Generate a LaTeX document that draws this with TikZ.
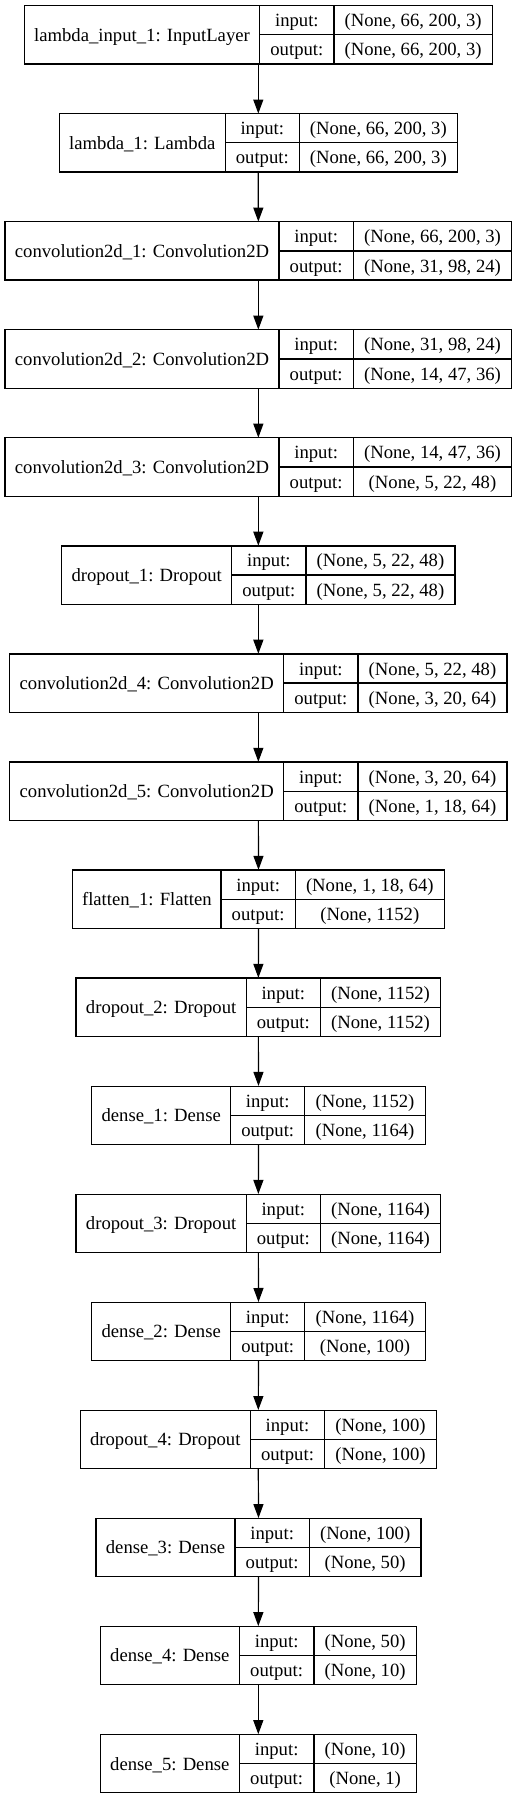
\documentclass[tikz,border=0pt]{standalone}
\usepackage{fontspec}
\setmainfont{Liberation Serif}
\usetikzlibrary{arrows.meta}
\tikzset{
  cell/.style={draw=black, line width=1.2pt, inner sep=0pt, anchor=center,
    text height=13pt, text depth=0pt,
    font=\fontsize{18.67}{22}\selectfont},
  rec/.style={inner sep=0pt, draw=none, minimum height=58.3pt},
  arr/.style={line width=1.2pt, -{Triangle[length=14pt,width=10pt]}}
}
\newcommand{\layerbox}[8]{%
  \pgfmathsetmacro{\tT}{5.7+108.04*#1}%
  \pgfmathsetmacro{\tM}{\tT+29.15}%
  \pgfmathsetmacro{\tA}{\tT+14.575}%
  \pgfmathsetmacro{\tB}{\tT+43.725}%
  \pgfmathsetmacro{\wL}{#3-#2}%
  \pgfmathsetmacro{\wK}{#4-#3}%
  \pgfmathsetmacro{\wV}{#5-#4}%
  \pgfmathsetmacro{\wR}{#5-#2}%
  \pgfmathsetmacro{\cL}{(#2+#3)/2}%
  \pgfmathsetmacro{\cK}{(#3+#4)/2}%
  \pgfmathsetmacro{\cV}{(#4+#5)/2}%
  \pgfmathsetmacro{\cR}{(#2+#5)/2}%
  \node[rec, minimum width=\wR pt] (b#1) at (\cR,\tM) {};
  \node[cell, minimum width=\wL pt, minimum height=58.3pt] (b#1l) at (\cL,\tM) {#6};
  \node[cell, minimum width=\wK pt, minimum height=29.15pt] (b#1ik) at (\cK,\tA) {input:};
  \node[cell, minimum width=\wV pt, minimum height=29.15pt] (b#1iv) at (\cV,\tA) {#7};
  \node[cell, minimum width=\wK pt, minimum height=29.15pt] (b#1ok) at (\cK,\tB) {output:};
  \node[cell, minimum width=\wV pt, minimum height=29.15pt] (b#1ov) at (\cV,\tB) {#8};
}
\begin{document}
\begin{tikzpicture}[x=1pt, y=-1pt]
\fill[white] (0,0) rectangle (517,1799);
\useasboundingbox (0,0) rectangle (517,1799);
\layerbox{0}{24.3}{259.7}{334}{492.3}{lambda\_input\_1: InputLayer}{(None, 66, 200, 3)}{(None, 66, 200, 3)}
\layerbox{1}{59.3}{225.3}{299.3}{457.3}{lambda\_1: Lambda}{(None, 66, 200, 3)}{(None, 66, 200, 3)}
\layerbox{2}{5}{279}{353.3}{511.7}{convolution2d\_1: Convolution2D}{(None, 66, 200, 3)}{(None, 31, 98, 24)}
\layerbox{3}{5}{279}{353.3}{511.7}{convolution2d\_2: Convolution2D}{(None, 31, 98, 24)}{(None, 14, 47, 36)}
\layerbox{4}{5}{279}{353.3}{511.7}{convolution2d\_3: Convolution2D}{(None, 14, 47, 36)}{(None, 5, 22, 48)}
\layerbox{5}{61.7}{231.7}{306}{455}{dropout\_1: Dropout}{(None, 5, 22, 48)}{(None, 5, 22, 48)}
\layerbox{6}{9.7}{283.7}{358}{507}{convolution2d\_4: Convolution2D}{(None, 5, 22, 48)}{(None, 3, 20, 64)}
\layerbox{7}{9.7}{283.7}{358}{507}{convolution2d\_5: Convolution2D}{(None, 3, 20, 64)}{(None, 1, 18, 64)}
\layerbox{8}{72.7}{221}{295.3}{444.3}{flatten\_1: Flatten}{(None, 1, 18, 64)}{(None, 1152)}
\layerbox{9}{76}{246.3}{320.3}{440.7}{dropout\_2: Dropout}{(None, 1152)}{(None, 1152)}
\layerbox{10}{91.7}{230.7}{304.7}{425.3}{dense\_1: Dense}{(None, 1152)}{(None, 1164)}
\layerbox{11}{76}{246.3}{320.3}{440.7}{dropout\_3: Dropout}{(None, 1164)}{(None, 1164)}
\layerbox{12}{91.7}{230.7}{304.7}{425.3}{dense\_2: Dense}{(None, 1164)}{(None, 100)}
\layerbox{13}{80.3}{250.3}{324.7}{436.3}{dropout\_4: Dropout}{(None, 100)}{(None, 100)}
\layerbox{14}{96}{235}{309.3}{421}{dense\_3: Dense}{(None, 100)}{(None, 50)}
\layerbox{15}{100.3}{239.3}{314}{416.3}{dense\_4: Dense}{(None, 50)}{(None, 10)}
\layerbox{16}{100.3}{239.3}{314}{416.3}{dense\_5: Dense}{(None, 10)}{(None, 1)}
\foreach \i in {0,...,15}{
  \pgfmathtruncatemacro{\j}{\i+1}
  \draw[arr] (b\i.south) -- (b\j.north);
}
\end{tikzpicture}
\end{document}
